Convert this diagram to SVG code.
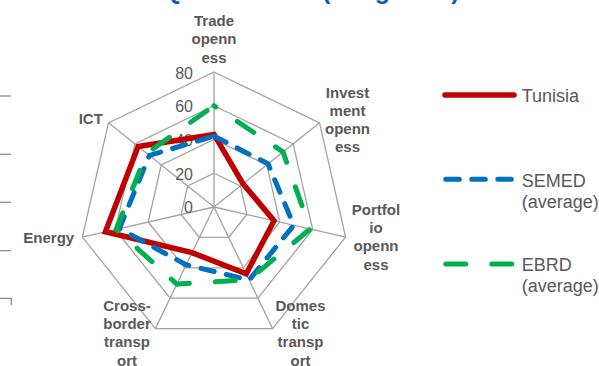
<svg xmlns="http://www.w3.org/2000/svg" width="599" height="366" viewBox="0 0 599 366">
<style>
.grid{fill:none;stroke:#a3a3a3;stroke-width:1.3}
.val{font-family:"Liberation Sans",Arial,sans-serif;font-size:16px;fill:#595959;text-anchor:end}
.cat{font-family:"Liberation Sans",Arial,sans-serif;font-size:15px;font-weight:bold;fill:#595959;text-anchor:middle}
.leg{font-family:"Liberation Sans",Arial,sans-serif;font-size:18px;fill:#595959}
.tun{fill:none;stroke:#C00000;stroke-width:5.5;stroke-linejoin:miter}
.sem{fill:none;stroke:#0070C0;stroke-width:5;stroke-linecap:round;stroke-dasharray:13.5 12.5}
.ebrd{fill:none;stroke:#00B050;stroke-width:5;stroke-linecap:round;stroke-dasharray:20 26}
.title{font-family:"Liberation Sans",Arial,sans-serif;font-size:25px;font-weight:bold;fill:#0B5FAF}
.tick{stroke:#8c8c8c;stroke-width:1.3;fill:none}
</style>
<rect width="599" height="366" fill="#ffffff"/>
<g id="title">
<text class="title" x="31" y="-1.3">Tunisia: ATQ scores</text>
<text class="title" x="322" y="-1.3">(Integrated)</text>
</g>
<g id="left-ticks">
<line class="tick" x1="0" y1="96" x2="11" y2="96"/>
<line class="tick" x1="0" y1="154.3" x2="11" y2="154.3"/>
<line class="tick" x1="0" y1="202.3" x2="11" y2="202.3"/>
<line class="tick" x1="0" y1="250.7" x2="11" y2="250.7"/>
<polyline class="tick" points="0,298.3 11.3,298.3 11.3,305"/>
</g>
<g id="grid">
<polygon class="grid" points="214,72 319.55,122.83 345.62,237.04 272.57,328.63 155.43,328.63 82.38,237.04 108.45,122.83"/>
<polygon class="grid" points="214,105.75 293.16,143.87 312.71,229.53 257.93,298.22 170.07,298.22 115.29,229.53 134.84,143.87"/>
<polygon class="grid" points="214,139.5 266.77,164.91 279.81,222.02 243.29,267.82 184.71,267.82 148.19,222.02 161.23,164.91"/>
<polygon class="grid" points="214,173.25 240.39,185.96 246.9,214.51 228.64,237.41 199.36,237.41 181.1,214.51 187.61,185.96"/>
<path class="grid" d="M214,207L214,72M214,207L319.55,122.83M214,207L345.62,237.04M214,207L272.57,328.63M214,207L155.43,328.63M214,207L82.38,237.04M214,207L108.45,122.83"/>
</g>
<g id="value-labels">
<text class="val" x="193" y="78.5">80</text>
<text class="val" x="193" y="112">60</text>
<text class="val" x="193" y="145.8">40</text>
<text class="val" x="193" y="179.6">20</text>
<text class="val" x="193" y="213.4">0</text>
</g>
<g id="category-labels">
<text class="cat" y="26"><tspan x="214">Trade</tspan><tspan x="214" dy="18.3">openn</tspan><tspan x="214" dy="18.3">ess</tspan></text>
<text class="cat" y="97.7"><tspan x="347.5">Invest</tspan><tspan x="347.5" dy="18.2">ment</tspan><tspan x="347.5" dy="18.2">openn</tspan><tspan x="347.5" dy="18.2">ess</tspan></text>
<text class="cat" y="215"><tspan x="376">Portfol</tspan><tspan x="376" dy="18.2">io</tspan><tspan x="376" dy="18.2">openn</tspan><tspan x="376" dy="18.2">ess</tspan></text>
<text class="cat" y="311"><tspan x="300.5">Domes</tspan><tspan x="300.5" dy="18.2">tic</tspan><tspan x="300.5" dy="18.2">transp</tspan><tspan x="300.5" dy="18.2">ort</tspan></text>
<text class="cat" y="311"><tspan x="127">Cross-</tspan><tspan x="127" dy="18.2">border</tspan><tspan x="127" dy="18.2">transp</tspan><tspan x="127" dy="18.2">ort</tspan></text>
<text class="cat" x="48.8" y="243.3">Energy</text>
<text class="cat" x="90.8" y="124.3">ICT</text>
</g>
<g id="series">
<polygon id="tunisia" class="tun" points="214,134.44 243.03,183.85 274.05,220.71 246.22,273.9 192.03,252.61 105.41,231.78 138.14,146.5"/>
<polygon id="semed" class="sem" points="214,136.12 268.09,163.86 293.79,225.21 249.14,279.98 186.18,264.78 119.4,228.59 149.35,155.44"/>
<polygon id="ebrd" class="ebrd" stroke-dashoffset="18" points="214,105.75 283,151.97 310.24,228.97 249,279.67 176.88,284.09 116.11,229.34 146.71,153.34"/>
</g>
<g id="legend">
<line class="tun" x1="445" y1="95" x2="514" y2="95" style="stroke-linecap:round"/>
<text class="leg" x="521.7" y="102.3">Tunisia</text>
<line class="sem" x1="445.8" y1="179.3" x2="514" y2="179.3"/>
<text class="leg" x="521.7" y="186.7">SEMED</text>
<text class="leg" x="521.7" y="208.3">(average)</text>
<line class="ebrd" x1="445.8" y1="264" x2="514" y2="264"/>
<text class="leg" x="521.7" y="270.7">EBRD</text>
<text class="leg" x="521.7" y="291.7">(average)</text>
</g>
</svg>
